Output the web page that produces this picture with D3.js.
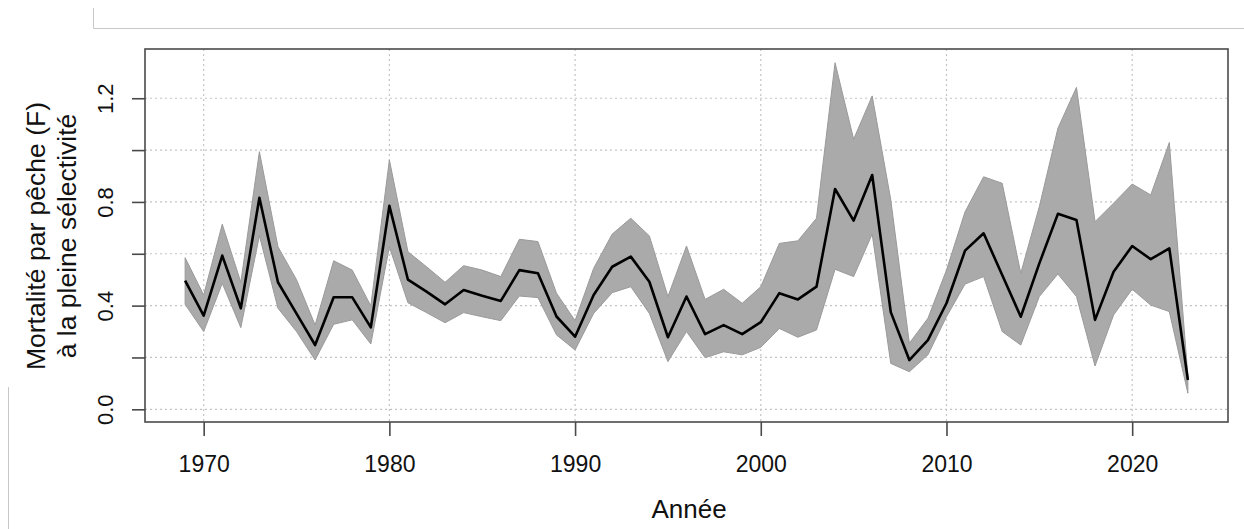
<!DOCTYPE html>
<html>
<head>
<meta charset="utf-8">
<script src="https://cdn.jsdelivr.net/npm/d3@7"></script>
<style>
  html, body { margin: 0; padding: 0; background: #fff; }
  svg { display: block; font-family: "Liberation Sans", Arial, sans-serif; }
</style>
</head>
<body>
<svg id="chart" width="1244" height="529"></svg>
<script>
// Fishing mortality (F) at full selectivity, with its confidence band
const years = d3.range(1969, 2024);
const fValues = [
  0.496, 0.361, 0.593, 0.390, 0.816, 0.490, 0.369, 0.248, 0.432, 0.432,
  0.316, 0.785, 0.500, 0.454, 0.405, 0.460, 0.438, 0.418, 0.537, 0.525,
  0.358, 0.280, 0.441, 0.550, 0.589, 0.492, 0.278, 0.435, 0.290, 0.325,
  0.290, 0.336, 0.448, 0.424, 0.473, 0.850, 0.728, 0.904, 0.375, 0.190,
  0.267, 0.409, 0.612, 0.679, 0.518, 0.357, 0.563, 0.754, 0.730, 0.345,
  0.531, 0.630, 0.579, 0.621, 0.113
];
const fUpper = [
  0.585, 0.441, 0.714, 0.490, 0.994, 0.627, 0.500, 0.325, 0.573, 0.537,
  0.399, 0.962, 0.608, 0.550, 0.490, 0.554, 0.537, 0.512, 0.656, 0.647,
  0.448, 0.342, 0.544, 0.676, 0.737, 0.669, 0.435, 0.630, 0.424, 0.463,
  0.409, 0.473, 0.640, 0.650, 0.737, 1.337, 1.042, 1.209, 0.808, 0.255,
  0.351, 0.537, 0.762, 0.897, 0.872, 0.525, 0.782, 1.084, 1.242, 0.724,
  0.795, 0.869, 0.827, 1.029, 0.130
];
const fLower = [
  0.405, 0.300, 0.486, 0.315, 0.670, 0.390, 0.300, 0.190, 0.328, 0.345,
  0.252, 0.627, 0.411, 0.373, 0.334, 0.373, 0.357, 0.342, 0.437, 0.431,
  0.287, 0.229, 0.370, 0.450, 0.473, 0.370, 0.184, 0.300, 0.199, 0.222,
  0.210, 0.239, 0.312, 0.278, 0.306, 0.540, 0.512, 0.676, 0.177, 0.145,
  0.210, 0.357, 0.483, 0.512, 0.300, 0.248, 0.435, 0.522, 0.435, 0.167,
  0.364, 0.463, 0.402, 0.377, 0.062
];
const xTicks = [1970, 1980, 1990, 2000, 2010, 2020];
const yTicks = [0.0, 0.2, 0.4, 0.6, 0.8, 1.0, 1.2];
const yTickLabels = ["0.0", "", "0.4", "", "0.8", "", "1.2"];
const xTitle = "Année";
const yTitleLines = ["Mortalité par pêche (F)", "à la pleine sélectivité"];

const data = years.map((yr, i) => ({ year: yr, f: fValues[i], lo: fLower[i], hi: fUpper[i] }));

const svg = d3.select("#chart");
const plot = { left: 145, right: 1228, top: 49, bottom: 422 };

const x = d3.scaleLinear().domain([1966.84, 2025.16]).range([plot.left, plot.right]);
const y = d3.scaleLinear().domain([-0.049, 1.39]).range([plot.bottom, plot.top]);

// frame lines around the figure
svg.append("path")
  .attr("d", "M93.5,8 V28.5 H1244")
  .attr("fill", "none").attr("stroke", "#c8c8c8").attr("stroke-width", 1);
svg.append("line")
  .attr("x1", 8.5).attr("x2", 8.5).attr("y1", 387).attr("y2", 529)
  .attr("stroke", "#c8c8c8").attr("stroke-width", 1);

// grid
const grid = svg.append("g").attr("stroke", "#c4c4c4").attr("stroke-width", 1.2)
  .attr("stroke-dasharray", "2,3");
grid.selectAll("line.h").data(yTicks).join("line").attr("class", "h")
  .attr("x1", plot.left).attr("x2", plot.right)
  .attr("y1", d => y(d)).attr("y2", d => y(d));
grid.selectAll("line.v").data(xTicks).join("line").attr("class", "v")
  .attr("y1", plot.top).attr("y2", plot.bottom)
  .attr("x1", d => x(d)).attr("x2", d => x(d));

// confidence band
svg.append("path").datum(data)
  .attr("fill", "#aaaaaa").attr("stroke", "#9a9a9a").attr("stroke-width", 1)
  .attr("d", d3.area().x(d => x(d.year)).y0(d => y(d.lo)).y1(d => y(d.hi)));

// estimate
svg.append("path").datum(data)
  .attr("fill", "none").attr("stroke", "#000").attr("stroke-width", 2.6)
  .attr("stroke-linejoin", "round")
  .attr("d", d3.line().x(d => x(d.year)).y(d => y(d.f)));

// plot box
svg.append("rect")
  .attr("x", plot.left).attr("y", plot.top)
  .attr("width", plot.right - plot.left).attr("height", plot.bottom - plot.top)
  .attr("fill", "none").attr("stroke", "#4a4a4a").attr("stroke-width", 1.6);

// x axis
const xAxis = d3.axisBottom(x).tickValues(xTicks).tickFormat(d3.format("d"))
  .tickSize(14).tickPadding(20);
const gx = svg.append("g").attr("transform", `translate(0,${plot.bottom})`).call(xAxis);
gx.select(".domain").remove();
gx.selectAll(".tick line").attr("stroke", "#4a4a4a").attr("stroke-width", 1.6);
gx.selectAll(".tick text").attr("fill", "#111").style("font-size", "23px")
  .style("font-family", "'Liberation Sans', Arial, sans-serif");

// y axis
const yAxis = d3.axisLeft(y).tickValues(yTicks).tickFormat((d, i) => yTickLabels[i])
  .tickSize(13).tickPadding(0);
const gy = svg.append("g").attr("transform", `translate(${plot.left},0)`).call(yAxis);
gy.select(".domain").remove();
gy.selectAll(".tick line").attr("stroke", "#4a4a4a").attr("stroke-width", 1.6);
gy.selectAll(".tick text")
  .attr("fill", "#111").style("font-size", "22px")
  .style("font-family", "'Liberation Sans', Arial, sans-serif")
  .attr("x", null)
  .attr("text-anchor", "middle")
  .attr("transform", "translate(-32,0) rotate(-90)")
  .attr("dy", "0");

// axis titles
svg.append("text")
  .attr("x", 689).attr("y", 518)
  .attr("text-anchor", "middle").attr("fill", "#111")
  .style("font-size", "26px").text(xTitle);

const yt = svg.append("text")
  .attr("transform", `translate(45,236) rotate(-90)`)
  .attr("text-anchor", "middle").attr("fill", "#111").style("font-size", "26.5px");
yTitleLines.forEach((t, i) => {
  yt.append("tspan").attr("x", 0).attr("dy", i === 0 ? 0 : 31).text(t);
});
</script>
</body>
</html>
